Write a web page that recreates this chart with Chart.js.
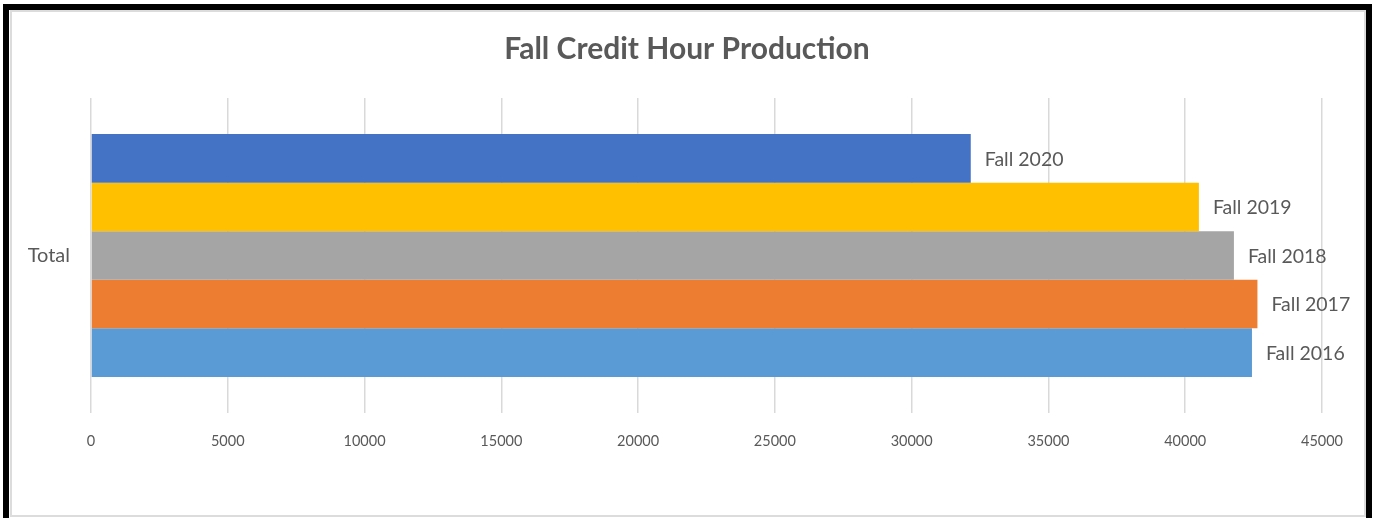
<!DOCTYPE html>
<html>
<head>
<meta charset="utf-8">
<script src="https://cdn.jsdelivr.net/npm/chart.js@4/dist/chart.umd.min.js"></script>
<style>
  html, body { margin: 0; padding: 0; background: #fff; overflow: hidden; }
  #wrap { position: relative; width: 1374px; height: 518px; }
  #chart { position: absolute; left: 0; top: 0; }
  #outer {
    position: absolute; left: 3px; top: 4px; width: 1357px; height: 540px;
    border: 6px solid #000; border-bottom: none; pointer-events: none;
  }
  #inner {
    position: absolute; left: 10px; top: 10px; width: 1356px; height: 507px;
    box-sizing: border-box; border: 2px solid #dcdcdc; pointer-events: none;
  }
</style>
</head>
<body>
<div id="wrap">
  <canvas id="chart" width="1374" height="518"></canvas>
  <div id="inner"></div>
  <div id="outer"></div>
</div>
<script>
const categories = ['Total'];
const seriesNames = ['Fall 2020', 'Fall 2019', 'Fall 2018', 'Fall 2017', 'Fall 2016'];
const fall2020 = [32160];
const fall2019 = [40500];
const fall2018 = [41780];
const fall2017 = [42640];
const fall2016 = [42440];
const xTicks = [0, 5000, 10000, 15000, 20000, 25000, 30000, 35000, 40000, 45000];

const seriesValues = [fall2020, fall2019, fall2018, fall2017, fall2016];
const seriesColors = ['#4472C4', '#FFC000', '#A5A5A5', '#ED7D31', '#5B9BD5'];
const textColor = '#595959';

// series name written just past the end of each bar
const barNameLabels = {
    id: 'barNameLabels',
    afterDatasetsDraw(chart) {
        const ctx = chart.ctx;
        ctx.save();
        ctx.font = '19.5px Lato';
        ctx.fillStyle = textColor;
        ctx.textAlign = 'left';
        ctx.textBaseline = 'middle';
        chart.data.datasets.forEach((ds, i) => {
            const meta = chart.getDatasetMeta(i);
            meta.data.forEach(bar => {
                ctx.fillText(ds.label, bar.x + 14, bar.y + 1);
            });
        });
        ctx.restore();
    }
};

const ctx = document.getElementById('chart').getContext('2d');
const myChart = new Chart(ctx, {
    type: 'bar',
    data: {
        labels: categories,
        datasets: seriesNames.map((name, i) => ({
            label: name,
            data: seriesValues[i],
            backgroundColor: seriesColors[i],
            borderWidth: 0,
            barPercentage: 1,
            categoryPercentage: 0.771
        }))
    },
    options: {
        indexAxis: 'y',
        responsive: false,
        animation: false,
        layout: { padding: { left: 26, right: 26, top: 0, bottom: 68 } },
        plugins: {
            legend: { display: false },
            tooltip: { enabled: false },
            title: {
                display: true,
                text: 'Fall Credit Hour Production',
                color: textColor,
                font: { family: 'Lato', size: 30, weight: 'bold' },
                padding: { top: 31, bottom: 31 }
            }
        },
        scales: {
            x: {
                min: 0,
                max: 45000,
                afterBuildTicks(scale) {
                    scale.ticks = xTicks.map(v => ({ value: v }));
                },
                afterFit(scale) { scale.height = 37; },
                grid: { color: '#d9d9d9', lineWidth: 1.5, drawTicks: false },
                border: { display: false },
                ticks: {
                    color: textColor,
                    font: { family: 'Lato', size: 14.5 },
                    padding: 20,
                    callback: v => String(v)
                }
            },
            y: {
                afterFit(scale) { scale.width = 65; },
                grid: { display: false, drawTicks: false },
                border: { display: false },
                ticks: {
                    color: textColor,
                    font: { family: 'Lato', size: 20 },
                    padding: 21
                }
            },
            // empty right-hand box so the plot ends at 45000 while the title stays centred
            spacer: {
                type: 'linear',
                position: 'right',
                afterFit(scale) { scale.width = 26; },
                grid: { display: false, drawTicks: false },
                border: { display: false },
                ticks: { display: false }
            }
        }
    },
    plugins: [barNameLabels]
});
</script>
</body>
</html>
